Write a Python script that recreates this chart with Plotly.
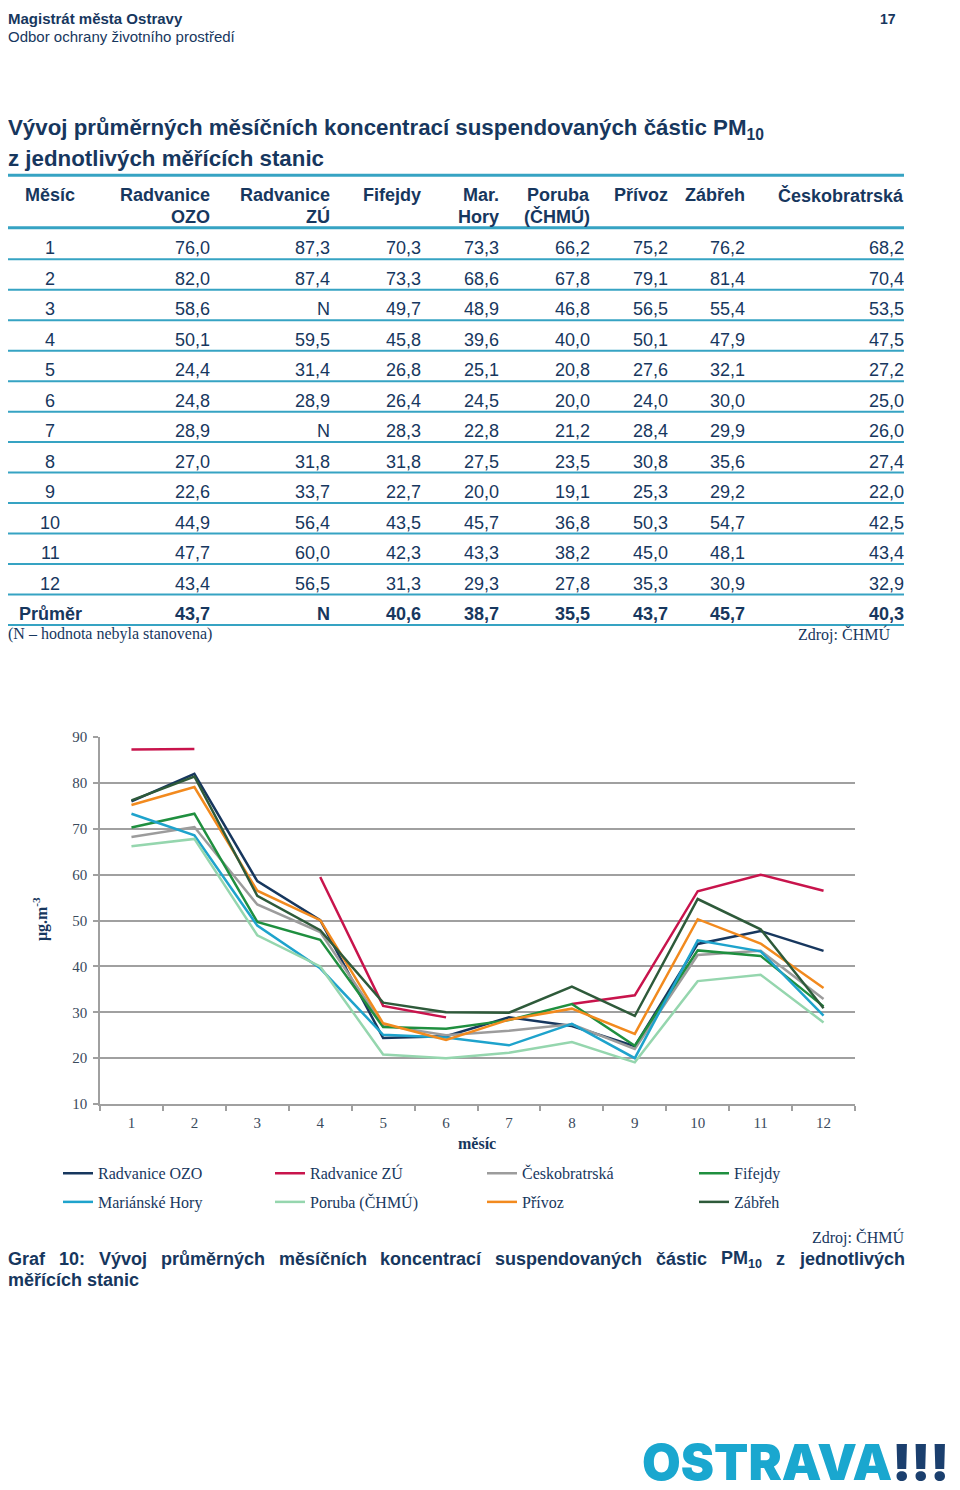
import plotly.graph_objects as go

# ---------------- data ----------------
months = list(range(1, 13))
radvanice_ozo = [76.0, 82.0, 58.6, 50.1, 24.4, 24.8, 28.9, 27.0, 22.6, 44.9, 47.7, 43.4]
radvanice_zu = [87.3, 87.4, None, 59.5, 31.4, 28.9, None, 31.8, 33.7, 56.4, 60.0, 56.5]
fifejdy = [70.3, 73.3, 49.7, 45.8, 26.8, 26.4, 28.3, 31.8, 22.7, 43.5, 42.3, 31.3]
marianske_hory = [73.3, 68.6, 48.9, 39.6, 25.1, 24.5, 22.8, 27.5, 20.0, 45.7, 43.3, 29.3]
poruba = [66.2, 67.8, 46.8, 40.0, 20.8, 20.0, 21.2, 23.5, 19.1, 36.8, 38.2, 27.8]
privoz = [75.2, 79.1, 56.5, 50.1, 27.6, 24.0, 28.4, 30.8, 25.3, 50.3, 45.0, 35.3]
zabreh = [76.2, 81.4, 55.4, 47.9, 32.1, 30.0, 29.9, 35.6, 29.2, 54.7, 48.1, 30.9]
ceskobratrska = [68.2, 70.4, 53.5, 47.5, 27.2, 25.0, 26.0, 27.4, 22.0, 42.5, 43.4, 32.9]
averages = ["43,7", "N", "40,6", "38,7", "35,5", "43,7", "45,7", "40,3"]

table_headers = [("Radvanice", "OZO"), ("Radvanice", "ZÚ"), ("Fifejdy", ""), ("Mar.", "Hory"),
                 ("Poruba", "(ČHMÚ)"), ("Přívoz", ""), ("Zábřeh", ""), ("Českobratrská", "")]
table_series = [radvanice_ozo, radvanice_zu, fifejdy, marianske_hory, poruba, privoz, zabreh, ceskobratrska]

chart_names = ["Radvanice OZO", "Radvanice ZÚ", "Českobratrská", "Fifejdy",
               "Mariánské Hory", "Poruba (ČHMÚ)", "Přívoz", "Zábřeh"]
chart_series = [radvanice_ozo, radvanice_zu, ceskobratrska, fifejdy,
                marianske_hory, poruba, privoz, zabreh]
chart_colors = ["#17375e", "#c8144c", "#9c9c9c", "#1f8f3f",
                "#1ea3cc", "#95d6ae", "#f28a1e", "#2e5a3a"]

y_ticks = [10, 20, 30, 40, 50, 60, 70, 80, 90]

caption_words = ["Graf", "10:", "Vývoj", "průměrných", "měsíčních", "koncentrací",
                 "suspendovaných", "částic", "PM|10", "z", "jednotlivých"]

# ---------------- layout helpers ----------------
# the page body has an 8px margin; size the figure so the page is exactly 960x1490
OFF = 8
W, H = 960 - 2 * OFF, 1490 - 2 * OFF
def px(x):
    return (x - OFF) / W
def py(y):
    return 1 - (y - OFF) / H

NAVY = "#17375e"
TEAL = "#36a3c3"
SANS = "Liberation Sans"
SERIF = "Liberation Serif"

annotations = []
shapes = []

def text(x, y, s, size, font=SANS, color=NAVY, xanchor="left", bold=False, **kw):
    annotations.append(dict(
        x=px(x), y=py(y), xref="paper", yref="paper", text=s, showarrow=False,
        xanchor=xanchor, yanchor="middle", borderpad=0, borderwidth=0,
        font=dict(family=font, size=size, color=color, weight=("bold" if bold else "normal")),
        **kw))

def hline(y, x0=6, x1=904, width=2, color=TEAL):
    shapes.append(dict(type="line", xref="paper", yref="paper", x0=px(max(x0, OFF)), x1=px(x1),
                       y0=py(y), y1=py(y), line=dict(color=color, width=width)))

# Arial/Liberation Sans Bold advance widths (1/1000 em), used to justify the caption line
BOLD_W = {"G": 778, "r": 389, "a": 556, "f": 333, "1": 556, "0": 556, ":": 333, "V": 667,
          "ý": 556, "v": 556, "o": 611, "j": 278, "p": 611, "ů": 611, "m": 889, "ě": 556,
          "n": 611, "c": 556, "h": 611, "s": 556, "í": 278, "č": 556, "k": 556, "t": 333,
          "e": 556, "á": 556, "i": 278, "d": 611, "u": 611, "z": 500, "l": 278, "y": 556,
          "P": 667, "M": 833}
def bold_width(word, size):
    main, _, sub = word.partition("|")
    w = sum(BOLD_W.get(c, 556) for c in main) * size / 1000
    w += sum(BOLD_W.get(c, 556) for c in sub) * size * 0.7 / 1000
    return w

LEFT = 8  # leftmost printable x of the page

# page header
text(LEFT, 11, "Magistrát města Ostravy", 15, bold=True)
text(LEFT, 29, "Odbor ochrany životního prostředí", 15)
text(896, 11, "17", 14, bold=True, xanchor="right")

# title
text(LEFT, 122, "Vývoj průměrných měsíčních koncentrací suspendovaných částic PM<sub>10</sub>", 22.3, bold=True)
text(LEFT, 152, "z jednotlivých měřících stanic", 22.3, bold=True)

# table
col_right = [210, 330, 421, 499, 590, 668, 745, 904]
hline(169, width=3)
text(50, 189, "Měsíc", 18, bold=True, xanchor="center")
for (l1, l2), xr in zip(table_headers, col_right):
    text(xr, 189, l1, 18, bold=True, xanchor="right")
    if l2:
        text(xr, 211, l2, 18, bold=True, xanchor="right")
hline(222, width=3)

row_y0 = 243
row_step = 30.8
for i, m in enumerate(months):
    yy = row_y0 + i * row_step
    text(50, yy, str(m), 18, xanchor="center")
    for ser, xr in zip(table_series, col_right):
        v = ser[i]
        s = "N" if v is None else f"{v:.1f}".replace(".", ",")
        text(xr, yy, s, 18, xanchor="right")
    hline(yy + 11, width=2)
yy = row_y0 + 12 * row_step
text(50, yy, "Průměr", 18, bold=True, xanchor="center")
for s, xr in zip(averages, col_right):
    text(xr, yy, s, 18, bold=True, xanchor="right")
hline(yy + 11, width=2)
text(LEFT, 633, "(N – hodnota nebyla stanovena)", 16, font=SERIF)
text(890, 633, "Zdroj: ČHMÚ", 16, font=SERIF, xanchor="right")

# chart axis titles
text(40, 921, "μg.m<sup>-3</sup>", 16, font=SERIF, bold=True, xanchor="center", textangle=-90)
text(477, 1148, "měsíc", 16, font=SERIF, bold=True, xanchor="center")

# caption: justified first line emulated word by word
text(904, 1243, "Zdroj: ČHMÚ", 16, font=SERIF, xanchor="right")
CAP = 18
widths = [bold_width(w, CAP) for w in caption_words]
gap = ((904 - LEFT) - sum(widths)) / (len(caption_words) - 1)
xpos = LEFT
for w, wd in zip(caption_words, widths):
    main, _, sub = w.partition("|")
    label = main + (f"<sub>{sub}</sub>" if sub else "")
    text(xpos, 1265, label, CAP, bold=True)
    xpos += wd + gap
text(LEFT, 1286, "měřících stanic", CAP, bold=True)

# logo
annotations.append(dict(
    x=px(949), y=py(1470), xref="paper", yref="paper", showarrow=False,
    xanchor="right", yanchor="middle", borderpad=0, borderwidth=0,
    text="OSTRAVA<span style='color:#1b3f6e'>!!!</span>",
    font=dict(family="Inter", size=50, color="#1aa7cf", weight=900)))

# ---------------- figure ----------------
fig = go.Figure()
for i, (name, ser, col) in enumerate(zip(chart_names, chart_series, chart_colors)):
    fig.add_trace(go.Scatter(
        x=months, y=ser, mode="lines", name=name,
        line=dict(color=col, width=2.5), connectgaps=False,
        legend="legend" if i < 4 else "legend2",
    ))

legend_common = dict(orientation="h", xanchor="left", yanchor="middle",
                     entrywidth=167, entrywidthmode="pixels",
                     font=dict(family=SERIF, size=16, color=NAVY),
                     bgcolor="rgba(0,0,0,0)", traceorder="normal", itemwidth=30)

fig.update_layout(
    width=W, height=H,
    margin=dict(l=0, r=0, t=0, b=0),
    paper_bgcolor="white", plot_bgcolor="white",
    showlegend=True,
    legend=dict(x=px(58), y=py(1178), **legend_common),
    legend2=dict(x=px(58), y=py(1207), **legend_common),
    xaxis=dict(domain=[px(100), px(855)], range=[0.5, 12.5],
               tickvals=months, ticktext=[str(m) for m in months],
               ticks="", showgrid=False, zeroline=False,
               showline=True, linecolor="#a0a0a0", linewidth=1.5,
               tickfont=dict(family=SERIF, size=15, color="#3a4a5c"),
               ticklabelstandoff=4,
               minor=dict(tickvals=[m - 0.5 for m in months] + [12.5], ticks="outside",
                          ticklen=5, tickcolor="#a0a0a0", tickwidth=1.5, showgrid=False)),
    yaxis=dict(domain=[py(1108), py(737)], range=[10, 90],
               tickvals=y_ticks, ticks="outside", ticklen=5, tickcolor="#a0a0a0", tickwidth=1.5,
               showgrid=True, gridcolor="#a0a0a0", gridwidth=1.5, zeroline=False,
               showline=True, linecolor="#a0a0a0", linewidth=1.5,
               tickfont=dict(family=SERIF, size=15, color="#3a4a5c"),
               ticklabelstandoff=3),
    annotations=annotations,
    shapes=shapes,
)

fig.write_html("out.html")
